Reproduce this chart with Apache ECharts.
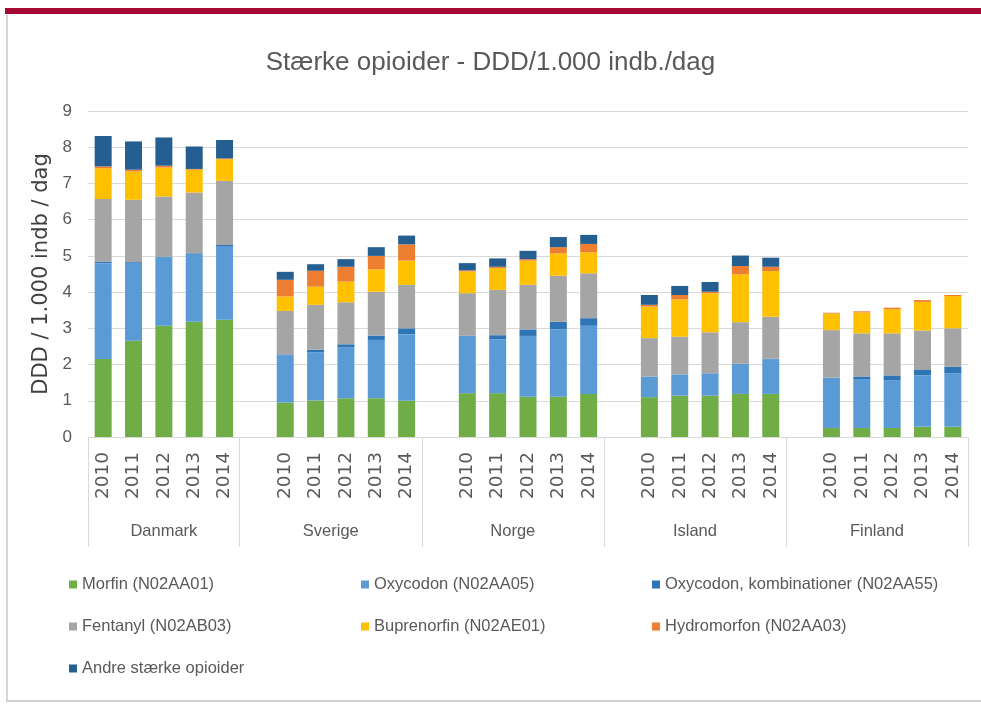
<!DOCTYPE html>
<html>
<head>
<meta charset="utf-8">
<script src="https://cdn.jsdelivr.net/npm/echarts@6/dist/echarts.min.js"></script>
<style>
  html, body { margin: 0; padding: 0; background: #fff; }
  #chart { width: 981px; height: 705px; }
</style>
</head>
<body>
<div id="chart"></div>
<script>
// categories
var countries = ['Danmark', 'Sverige', 'Norge', 'Island', 'Finland'];
var years = ['2010', '2011', '2012', '2013', '2014'];

// values per country (Danmark, Sverige, Norge, Island, Finland), 2010-2014
var morfin = [
  [2.15, 2.66, 3.07, 3.18, 3.24],
  [0.95, 1.01, 1.07, 1.07, 1.00],
  [1.21, 1.21, 1.11, 1.11, 1.19],
  [1.10, 1.14, 1.14, 1.19, 1.19],
  [0.25, 0.25, 0.25, 0.28, 0.28]
];
var oxycodon = [
  [2.65, 2.15, 1.89, 1.87, 2.03],
  [1.31, 1.33, 1.40, 1.61, 1.84],
  [1.56, 1.49, 1.68, 1.86, 1.88],
  [0.57, 0.59, 0.62, 0.83, 0.96],
  [1.39, 1.35, 1.31, 1.42, 1.48]
];
var oxyKomb = [
  [0.04, 0.02, 0.02, 0.02, 0.03],
  [0.02, 0.07, 0.09, 0.12, 0.16],
  [0.03, 0.11, 0.18, 0.21, 0.21],
  [0, 0, 0, 0, 0.01],
  [0, 0.07, 0.14, 0.15, 0.18]
];
var fentanyl = [
  [1.73, 1.72, 1.66, 1.68, 1.77],
  [1.20, 1.24, 1.16, 1.21, 1.20],
  [1.17, 1.25, 1.23, 1.27, 1.24],
  [1.06, 1.04, 1.13, 1.15, 1.16],
  [1.31, 1.19, 1.16, 1.09, 1.06]
];
var buprenorfin = [
  [0.85, 0.78, 0.80, 0.63, 0.60],
  [0.40, 0.50, 0.57, 0.62, 0.67],
  [0.60, 0.60, 0.67, 0.62, 0.58],
  [0.87, 1.03, 1.08, 1.32, 1.26],
  [0.46, 0.58, 0.67, 0.79, 0.89]
];
var hydromorfon = [
  [0.05, 0.05, 0.05, 0.02, 0.02],
  [0.46, 0.44, 0.41, 0.37, 0.45],
  [0.03, 0.04, 0.04, 0.17, 0.23],
  [0.05, 0.12, 0.04, 0.23, 0.12],
  [0.02, 0.03, 0.04, 0.05, 0.03]
];
var andre = [
  [0.84, 0.78, 0.78, 0.62, 0.51],
  [0.22, 0.18, 0.21, 0.24, 0.24],
  [0.20, 0.23, 0.23, 0.28, 0.25],
  [0.27, 0.25, 0.27, 0.29, 0.25],
  [0, 0, 0, 0, 0]
];

var seriesNames = [
  'Morfin (N02AA01)', 'Oxycodon (N02AA05)', 'Oxycodon, kombinationer (N02AA55)',
  'Fentanyl (N02AB03)', 'Buprenorfin (N02AE01)', 'Hydromorfon (N02AA03)',
  'Andre stærke opioider'
];
var seriesValues = [morfin, oxycodon, oxyKomb, fentanyl, buprenorfin, hydromorfon, andre];
var colors = ['#70AD47', '#5B9BD5', '#2E75B6', '#A5A5A5', '#FFC000', '#ED7D31', '#255E91'];

// one empty slot in front of every country but the first
var xCats = [];
var groupEdges = [0];
var groupMids = [];
countries.forEach(function (c, i) {
  var start = xCats.length;
  if (i > 0) xCats.push('');
  years.forEach(function (y) { xCats.push(y); });
  groupEdges.push(xCats.length);
  groupMids.push((start + xCats.length) / 2);
});

function flatten(arr) {
  var out = [];
  arr.forEach(function (vals, i) {
    if (i > 0) out.push('-');
    vals.forEach(function (v) { out.push(v); });
  });
  return out;
}

var myChart = echarts.init(document.getElementById('chart'));
var sans = "'Liberation Sans', Arial, sans-serif";

var option = {
  animation: false,
  color: colors,
  title: {
    text: 'Stærke opioider - DDD/1.000 indb./dag',
    left: 'center',
    top: 45,
    textStyle: { fontFamily: sans, fontSize: 26, fontWeight: 'normal', color: '#595959' }
  },
  graphic: [
    { type: 'rect', shape: { x: 5, y: 8, width: 976, height: 6 }, style: { fill: '#A50A34' } },
    { type: 'rect', shape: { x: 6, y: 15, width: 2, height: 687 }, style: { fill: '#d6d6d6' } },
    { type: 'rect', shape: { x: 6, y: 700, width: 975, height: 2 }, style: { fill: '#d0d0d0' } }
  ],
  legend: [
    {
      data: [seriesNames[0], seriesNames[3], seriesNames[6]],
      orient: 'vertical', left: 64, top: 571, itemGap: 25
    },
    {
      data: [seriesNames[1], seriesNames[4]],
      orient: 'vertical', left: 356, top: 571, itemGap: 25
    },
    {
      data: [seriesNames[2], seriesNames[5]],
      orient: 'vertical', left: 647, top: 571, itemGap: 25
    }
  ].map(function (l) {
    l.icon = 'rect';
    l.itemWidth = 8;
    l.itemHeight = 8;
    l.textStyle = { fontFamily: sans, fontSize: 16.5, color: '#595959' };
    return l;
  }),
  grid: { left: 88, right: 13, top: 111, bottom: 268 },
  xAxis: [
    {
      type: 'category',
      data: xCats,
      axisLine: { lineStyle: { color: '#d9d9d9' } },
      axisTick: { show: false },
      axisLabel: {
        interval: 0, rotate: 90, margin: 15,
        fontFamily: 'DejaVu Sans', fontSize: 18.5, color: '#595959'
      }
    },
    {
      type: 'value',
      position: 'bottom',
      min: 0,
      max: xCats.length,
      axisLine: { show: false },
      splitLine: { show: false },
      axisTick: {
        show: true, length: 110, customValues: groupEdges,
        lineStyle: { color: '#d9d9d9' }
      },
      axisLabel: {
        customValues: groupMids, margin: 86,
        fontFamily: sans, fontSize: 16.5, color: '#595959',
        formatter: function (v) {
          var i = groupMids.indexOf(v);
          return i >= 0 ? countries[i] : '';
        }
      }
    }
  ],
  yAxis: {
    type: 'value',
    min: 0,
    max: 9,
    interval: 1,
    name: 'DDD / 1.000 indb / dag',
    nameLocation: 'middle',
    nameGap: 35,
    nameTextStyle: { fontFamily: 'DejaVu Sans', fontSize: 21, color: '#404040' },
    axisLine: { show: false },
    axisTick: { show: false },
    splitLine: { lineStyle: { color: '#d9d9d9' } },
    axisLabel: { margin: 16, fontFamily: sans, fontSize: 17, color: '#595959' }
  },
  series: seriesNames.map(function (name, i) {
    return {
      name: name,
      type: 'bar',
      stack: 'total',
      barCategoryGap: '44%',
      data: flatten(seriesValues[i])
    };
  })
};

myChart.setOption(option);
</script>
</body>
</html>
